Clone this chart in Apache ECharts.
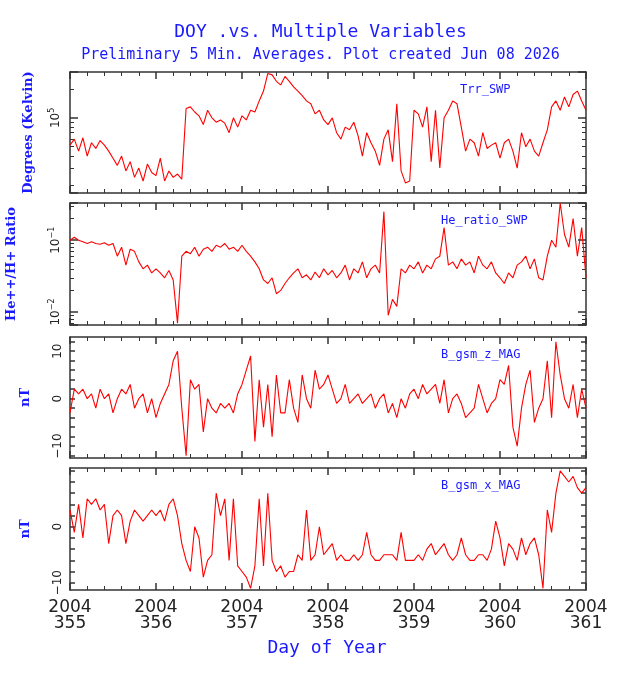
<!DOCTYPE html>
<html><head><meta charset="utf-8">
<script src="https://cdn.jsdelivr.net/npm/echarts@6/dist/echarts.min.js"></script>
<style>html,body{margin:0;padding:0;background:#fff}#c{width:641px;height:682px}</style>
</head><body><div id="c"></div>
<script>
const dayStart = 355, dayStep = 0.05;
const xTickLabels = ['2004\n355','2004\n356','2004\n357','2004\n358','2004\n359','2004\n360','2004\n361'];
const trr = [52000,60000,45000,62000,40000,55000,48000,58000,52000,45000,
 38000,32000,40000,28000,35000,24000,30000,22000,33000,27000,
 25000,38000,22000,28000,24000,26000,23000,125000,130000,115000,
 105000,85000,120000,100000,90000,95000,88000,70000,100000,80000,
 105000,95000,120000,115000,150000,190000,290000,280000,240000,220000,
 270000,240000,210000,190000,170000,150000,140000,110000,120000,95000,
 85000,100000,70000,60000,80000,75000,90000,65000,40000,70000,
 55000,45000,32000,60000,75000,35000,140000,28000,21000,22000,
 120000,110000,80000,130000,35000,120000,30000,100000,120000,150000,
 140000,80000,45000,60000,55000,40000,70000,48000,52000,55000,
 38000,55000,60000,45000,30000,70000,50000,60000,45000,40000,
 55000,75000,130000,150000,120000,165000,130000,175000,190000,150000,120000];
const heRatio = [.10,.11,.10,.095,.09,.095,.09,.088,.092,.085,
 .09,.06,.08,.045,.075,.07,.05,.04,.045,.035,
 .04,.035,.03,.038,.028,.007,.06,.07,.065,.08,
 .06,.075,.08,.07,.085,.08,.09,.075,.08,.07,
 .085,.07,.06,.05,.04,.028,.025,.03,.018,.02,
 .025,.03,.035,.04,.03,.033,.028,.036,.03,.04,
 .033,.038,.03,.035,.045,.028,.04,.035,.05,.03,
 .04,.045,.035,.25,.009,.015,.012,.04,.035,.045,
 .04,.05,.035,.045,.04,.055,.06,.15,.045,.05,
 .04,.055,.045,.05,.035,.06,.045,.04,.05,.035,
 .03,.025,.035,.03,.045,.05,.06,.04,.055,.03,
 .028,.06,.1,.08,.33,.12,.08,.2,.06,.15,.03];
const bz = [-3,2,1,2,0,1,-2,2,0,1,
 -3,0,2,1,3,-2,0,1,-3,0,
 -4,-1,1,3,8,10,-2,-12,4,2,
 3,-7,0,-2,-3,-1,-2,-1,-3,1,
 3,6,9,-9,4,-6,3,-8,5,-3,
 -3,4,-2,-5,5,0,-2,6,2,3,
 5,2,-1,0,3,-1,0,1,-1,0,
 1,-2,0,1,-3,-1,-4,0,-2,1,
 2,0,3,1,2,3,-1,4,-3,0,
 1,-1,-4,-3,-2,3,0,-3,-1,0,
 4,3,7,-6,-10,-2,3,6,-5,-2,
 0,8,-4,12,5,0,-2,3,-4,2,-2];
const bx = [3,-1,4,-2,5,4,5,3,4,-3,
 2,3,2,-3,1,3,2,1,2,3,
 2,3,1,4,5,2,-3,-6,-8,0,
 -2,-9,-6,-5,6,2,5,-6,5,-7,
 -8,-9,-11,-7,5,-7,6,-6,-8,-7,
 -9,-8,-8,-5,-6,3,-6,-5,0,-5,
 -4,-3,-6,-5,-6,-6,-5,-6,-5,-1,
 -5,-6,-6,-5,-5,-5,-6,-1,-6,-6,
 -6,-5,-6,-4,-3,-5,-4,-3,-5,-6,
 -5,-2,-5,-6,-6,-5,-5,-6,-4,1,
 -2,-7,-3,-4,-6,-2,-5,-3,-2,-5,
 -11,3,-1,6,10,9,8,9,7,6,7];
const panelNames = ['Trr_SWP','He_ratio_SWP','B_gsm_z_MAG','B_gsm_x_MAG'];
const yNames = ['Degrees (Kelvin)','He++/H+ Ratio','nT','nT'];
const yLabelVals = [null, null, [-10,0,10], [-10,0]];
const yTickVals = [null, null, [-12,-10,-8,-6,-4,-2,0,2,4,6,8,10,12], [-10,-8,-6,-4,-2,0,2,4,6,8,10]];

const series = [trr, heRatio, bz, bx];
const tops = [72, 203, 337, 468], heights = [121, 122, 121, 122];
const yRanges = [[16500,300000],[0.0066,0.33],[-12.5,13],[-11.3,10.5]];
const nameGaps = [35, 52, 38, 38];
const blue = '#1a1aff', axisCol = '#333';
const sup = {'-2':'−2','-1':'−1','5':'5'};
const grids = [], xAxes = [], yAxes = [], ser = [];
const lineStyle = {color: axisCol, width: 1.5};
for (let i = 0; i < 4; i++) {
  grids.push({left: 70, right: 55, top: tops[i], height: heights[i], containLabel: false, outerBoundsMode: 'none'});
  const last = i === 3;
  const xb = {gridIndex: i, type: 'value', min: 355, max: 361, interval: 1,
    axisLine: {lineStyle, onZero: false}, axisTick: {inside: true, length: 7, lineStyle},
    minorTick: {show: true, splitNumber: 5, length: 4, lineStyle: {color: axisCol}},
    splitLine: {show: false}, minorSplitLine: {show: false}};
  xAxes.push(Object.assign({}, xb, {position: 'bottom',
    axisLabel: {show: last, color: '#222', fontSize: 17, fontFamily: 'DejaVu Sans', lineHeight: 16, margin: 10,
      formatter: v => xTickLabels[Math.round(v) - 355]}}));
  xAxes.push(Object.assign({}, xb, {position: 'top', axisLabel: {show: false}}));
  const isLog = i < 2;
  const base = {gridIndex: i, type: isLog ? 'log' : 'value', min: yRanges[i][0], max: yRanges[i][1],
    splitLine: {show: false}, axisLine: {lineStyle, onZero: false}};
  if (isLog) {
    base.logBase = 10;
    base.axisTick = {inside: true, length: 8, lineStyle};
    base.minorTick = {show: true, splitNumber: 9, length: 4, lineStyle: {color: axisCol}};
  } else {
    base.axisTick = {inside: true, length: 5, lineStyle, customValues: yTickVals[i]};
  }
  const lab = {rotate: 90, color: '#222', fontSize: 12, margin: 6, fontFamily: 'DejaVu Sans',
      formatter: v => {
        if (isLog) {
          const e = Math.log10(v), r = Math.round(e);
          if (Math.abs(e - r) > 1e-6) return '';
          return '10{s|' + (sup[String(r)] || r) + '}';
        }
        return v === 0 ? '0' : String(v).replace('-', '−');
      },
      rich: {s: {fontSize: 8, verticalAlign: 'top', padding: [0,0,8,0]}}};
  if (!isLog) lab.customValues = yLabelVals[i];
  yAxes.push(Object.assign({}, base, {position: 'left',
    name: yNames[i], nameLocation: 'middle', nameGap: nameGaps[i],
    nameTextStyle: {color: blue, fontSize: 13, fontWeight: 'bold', fontFamily: 'DejaVu Serif'},
    axisLabel: lab}));
  yAxes.push(Object.assign({}, base, {position: 'right', axisLabel: {show: false}}));
  ser.push({type: 'line', xAxisIndex: 2*i, yAxisIndex: 2*i, showSymbol: false, symbol: 'none',
    lineStyle: {color: '#ff0000', width: 1.1}, animation: false, clip: true,
    data: series[i].map((v, k) => [dayStart + k*dayStep, v])});
}
const chart = echarts.init(document.getElementById('c'));
chart.setOption({
  animation: false,
  title: [
    {text: 'DOY .vs. Multiple Variables', left: 'center', top: 18, textStyle: {color: blue, fontSize: 18, fontWeight: 'normal', fontFamily: 'DejaVu Sans Mono'}},
    {text: 'Preliminary 5 Min. Averages. Plot created Jun 08 2026', left: 'center', top: 43, textStyle: {color: blue, fontSize: 15, fontWeight: 'normal', fontFamily: 'DejaVu Sans Mono'}},
    {text: 'Day of Year', left: 322, textAlign: 'center', top: 634, textStyle: {color: blue, fontSize: 18, fontWeight: 'normal', fontFamily: 'DejaVu Sans Mono'}}
  ],
  grid: grids, xAxis: xAxes, yAxis: yAxes, series: ser,
  graphic: panelNames.map((n, i) => ({type: 'text', left: [460,441,441,441][i], top: tops[i] + 12,
    style: {text: n, fill: blue, font: '12px "DejaVu Sans Mono"'}}))
});
</script></body></html>
